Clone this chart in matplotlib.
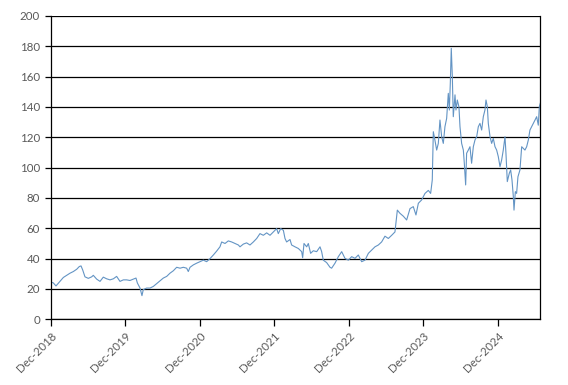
import matplotlib
matplotlib.use("Agg")
import matplotlib.pyplot as plt
from matplotlib.ticker import FixedLocator

# Decimal-year positions and prices
years = [
    2018.917, 2018.948, 2018.984, 2019.038, 2019.083, 2019.127, 2019.172, 2019.217,
    2019.262, 2019.297, 2019.320, 2019.342, 2019.373, 2019.418, 2019.463, 2019.485,
    2019.530, 2019.575, 2019.619, 2019.664, 2019.709, 2019.754, 2019.798, 2019.843,
    2019.888, 2019.933, 2019.977, 2020.022, 2020.058, 2020.076, 2020.112, 2020.138,
    2020.156, 2020.201, 2020.246, 2020.291, 2020.335, 2020.380, 2020.425, 2020.470,
    2020.514, 2020.559, 2020.604, 2020.649, 2020.693, 2020.738, 2020.760, 2020.783,
    2020.828, 2020.872, 2020.917, 2020.962, 2021.006, 2021.051, 2021.096, 2021.141,
    2021.185, 2021.208, 2021.253, 2021.297, 2021.342, 2021.387, 2021.432, 2021.454,
    2021.499, 2021.543, 2021.588, 2021.633, 2021.678, 2021.722, 2021.767, 2021.812,
    2021.857, 2021.901, 2021.946, 2021.968, 2022.000, 2022.036, 2022.058, 2022.080,
    2022.125, 2022.147, 2022.192, 2022.237, 2022.282, 2022.295, 2022.313, 2022.349,
    2022.371, 2022.402, 2022.438, 2022.483, 2022.528, 2022.550, 2022.572, 2022.617,
    2022.662, 2022.684, 2022.729, 2022.774, 2022.819, 2022.863, 2022.908, 2022.953,
    2022.998, 2023.042, 2023.087, 2023.132, 2023.177, 2023.221, 2023.266, 2023.311,
    2023.355, 2023.400, 2023.445, 2023.490, 2023.534,
    2023.566, 2023.601, 2023.646, 2023.691, 2023.736, 2023.780, 2023.816, 2023.848,
    2023.892, 2023.937, 2023.982, 2024.013, 2024.035, 2024.049, 2024.071, 2024.094,
    2024.116, 2024.138, 2024.161, 2024.183, 2024.205, 2024.228, 2024.250, 2024.264,
    2024.277, 2024.290, 2024.304, 2024.317, 2024.340, 2024.353, 2024.371, 2024.393,
    2024.407, 2024.429, 2024.452, 2024.465, 2024.483, 2024.496, 2024.519, 2024.541,
    2024.563, 2024.586, 2024.608, 2024.631, 2024.653, 2024.675, 2024.698, 2024.720,
    2024.742, 2024.756, 2024.774, 2024.787, 2024.810, 2024.832, 2024.854, 2024.877,
    2024.899, 2024.921, 2024.944, 2024.966, 2024.988, 2025.011, 2025.024, 2025.042,
    2025.069, 2025.087, 2025.105, 2025.123, 2025.132, 2025.150, 2025.167, 2025.185,
    2025.212, 2025.235, 2025.257, 2025.279, 2025.302, 2025.324, 2025.346, 2025.369,
    2025.391, 2025.414, 2025.436, 2025.458, 2025.472, 2025.485,
]
prices = [
    24.5, 24.0, 22.0, 25.0, 27.6, 29.0, 30.4, 31.5,
    33.0, 34.8, 35.2, 32.6, 28.0, 27.0, 28.0, 29.0,
    26.5, 25.0, 27.8, 26.7, 26.0, 26.7, 28.3, 25.0,
    26.0, 26.0, 25.6, 26.5, 27.2, 24.0, 20.6, 15.6,
    19.6, 20.6, 20.6, 21.7, 23.5, 25.4, 27.2, 28.3,
    30.4, 32.0, 34.3, 33.7, 34.3, 33.7, 31.5, 34.3,
    35.9, 37.0, 38.0, 39.0, 38.0, 40.0, 42.4, 45.0,
    47.8, 51.0, 50.0, 51.7, 51.0, 50.0, 49.0, 47.8,
    49.6, 50.4, 49.0, 51.0, 53.3, 56.5, 55.4, 57.0,
    55.4, 57.6, 59.8, 56.5, 59.8, 58.7, 53.3, 51.0,
    52.6, 49.0, 47.8, 46.7, 44.6, 40.6, 50.0, 47.8,
    50.0, 43.5, 45.2, 44.6, 47.8, 44.6, 39.0, 37.4,
    34.3, 33.7, 37.0, 41.3, 44.6, 40.2, 39.0, 41.3,
    40.2, 42.4, 38.0, 39.0, 43.5, 45.6, 47.8, 49.0,
    51.0, 54.8, 53.3, 55.4, 57.6,
    72.0, 69.9, 68.0, 65.5, 73.0, 74.3, 68.8, 76.5,
    78.7, 83.0, 85.0, 83.0, 91.9, 123.7, 118.0, 111.6,
    116.0, 131.4, 120.4, 116.0, 127.0, 132.5, 149.0, 138.0,
    155.6, 178.7, 160.0, 133.6, 148.0, 138.0, 144.6, 140.0,
    127.0, 116.0, 111.6, 102.9, 88.6, 109.5, 111.6, 113.8,
    102.9, 113.8, 118.2, 120.4, 127.0, 129.2, 124.8, 133.6,
    138.0, 144.6, 140.2, 129.2, 120.4, 116.0, 119.3, 113.8,
    111.6, 107.3, 100.7, 105.0, 111.6, 120.4, 109.5, 90.8,
    96.3, 98.5, 91.9, 80.9, 72.0, 84.2, 83.0, 94.0,
    98.5, 113.8, 112.7, 111.6, 113.8, 118.2, 124.8, 127.0,
    129.2, 131.4, 133.6, 128.0, 140.2, 142.4,
]
tick_years = [2018.917, 2019.917, 2020.917, 2021.917, 2022.917, 2023.917, 2024.917]
tick_labels = ["Dec-2018", "Dec-2019", "Dec-2020", "Dec-2021", "Dec-2022", "Dec-2023", "Dec-2024"]
y_ticks = list(range(0, 201, 20))

plt.rcParams['font.family'] = ['Lato', 'DejaVu Sans']

fig = plt.figure(figsize=(5.68, 3.85), dpi=100)
ax = fig.add_axes([51/568, 1 - 319.3/385, (540.3 - 51)/568, (319.3 - 16)/385])

ax.plot(years, prices, color="#6394c4", linewidth=0.8)

ax.set_xlim(2018.917, 2025.485)
ax.set_ylim(0, 200)
ax.yaxis.set_major_locator(FixedLocator(y_ticks))
ax.xaxis.set_major_locator(FixedLocator(tick_years))
ax.set_xticklabels(tick_labels, rotation=45, ha="right", rotation_mode="anchor")
ax.grid(axis="y", color="black", linewidth=0.9)
ax.set_axisbelow(True)

for side in ["left", "bottom", "right"]:
    ax.spines[side].set_color("black")
    ax.spines[side].set_linewidth(0.9)
ax.spines["top"].set_visible(False)

ax.tick_params(axis="both", colors="black", labelcolor="#595959", labelsize=8.3,
               direction="out", width=0.9)
ax.tick_params(axis="y", length=4, pad=4)
ax.tick_params(axis="x", length=5, pad=3)

fig.savefig("out.png", dpi=100)
